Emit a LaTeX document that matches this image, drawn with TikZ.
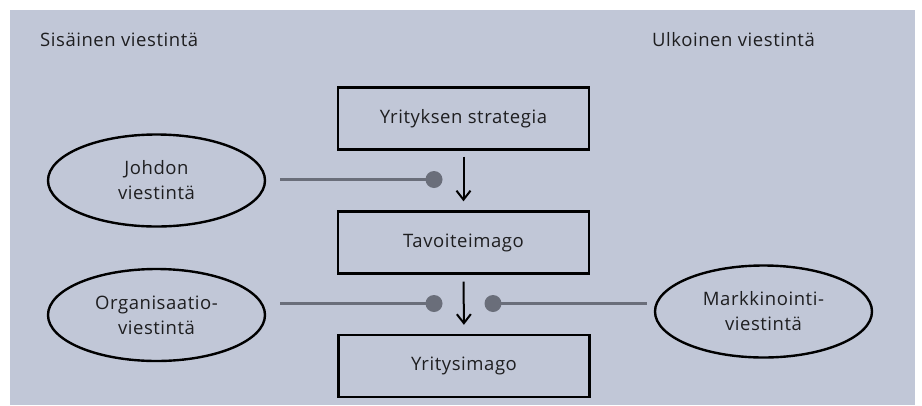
\documentclass[tikz,border=0pt]{standalone}
\usepackage{fontspec}
\setmainfont[LetterSpace=3]{Open Sans}
\usetikzlibrary{arrows.meta,shapes.geometric}
\definecolor{panel}{RGB}{193,199,215}
\definecolor{linkgray}{RGB}{106,110,122}
\definecolor{ink}{RGB}{30,30,32}
\tikzset{
  stagebox/.style={draw=black,line width=2.4pt,minimum width=251pt,minimum height=62pt,
    text=ink,font=\fontsize{18.5}{22}\selectfont},
  channel/.style={ellipse,draw=black,line width=2.4pt,minimum width=217pt,minimum height=92pt,
    inner sep=0pt,text=ink,align=center,font=\fontsize{18.5}{25}\selectfont},
  heading/.style={anchor=west,text=ink,font=\fontsize{18.5}{22}\selectfont,inner sep=0pt},
  flow/.style={draw=black,line width=2pt,-{Straight Barb[length=9pt,width=14pt,line width=2pt]}},
  link/.style={draw=linkgray,line width=2.6pt},
  joint/.style={circle,fill=linkgray,minimum size=17pt,inner sep=0pt}
}
\begin{document}
\begin{tikzpicture}[x=1pt,y=-1pt]
  % page and panel
  \useasboundingbox (0,0) rectangle (922,405);
  \fill[white] (0,0) rectangle (922,405);
  \fill[panel] (10,10) rectangle (915,405);

  % column headings
  \node[heading] (inner) at (40,40) {Sisäinen viestintä};
  \node[heading] (outer) at (652,40) {Ulkoinen viestintä};

  % image chain
  \node[stagebox] (strategy) at (463.5,118.5) {Yrityksen strategia};
  \node[stagebox] (target) at (463.5,242.5) {Tavoiteimago};
  \node[stagebox] (image) at (464,366) {Yritysimago};
  \draw[flow,shorten <=6pt,shorten >=9pt] (strategy.south) -- (target.north);
  \draw[flow,shorten <=7pt,shorten >=9pt] (target.south) -- (image.north);

  % communication channels
  \node[channel] (management) at (156.5,180.5) {Johdon\\viestintä};
  \node[channel] (organisation) at (156.5,315) {Organisaatio-\\viestintä};
  \node[channel] (marketing) at (763.5,311.5) {Markkinointi-\\viestintä};

  % joints beside the arrows
  \node[joint] (j1) at (434,179.5) {};
  \node[joint] (j2) at (434,303.5) {};
  \node[joint] (j3) at (493,303.5) {};

  \draw[link,shorten <=14pt] (j1 -| management.east) -- (j1.center);
  \draw[link,shorten <=14pt] (j2 -| organisation.east) -- (j2.center);
  \draw[link,shorten <=7pt] (j3 -| marketing.west) -- (j3.center);
\end{tikzpicture}
\end{document}
